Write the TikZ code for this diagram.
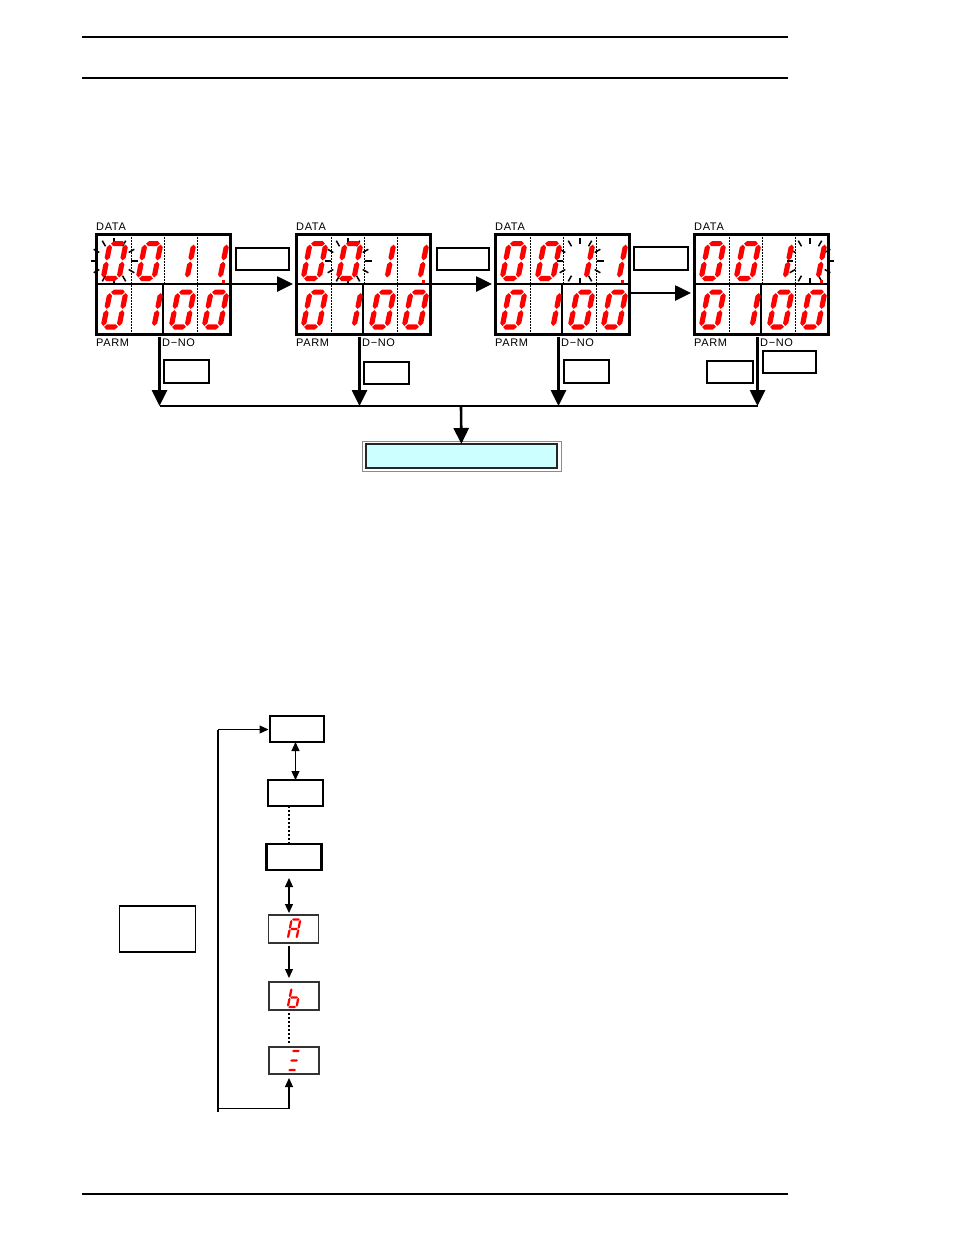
\documentclass[tikz,border=0pt]{standalone}
\usepackage{fontspec}
\setmainfont{Liberation Sans}
\usetikzlibrary{arrows.meta}

\definecolor{cyanlt}{RGB}{204,255,255}
\definecolor{segred}{RGB}{255,0,0}

% one segment, horizontal (y, x1, x2) or vertical (x, y1, y2)
\def\segt{2.6}
\newcommand{\dsegh}[3]{\fill[segred] (#2,#1) -- (#2+\segt,#1-\segt) -- (#3-\segt,#1-\segt) -- (#3,#1) -- (#3-\segt,#1+\segt) -- (#2+\segt,#1+\segt) -- cycle;}
\newcommand{\dsegv}[3]{\fill[segred] (#1,#2) -- (#1+\segt,#2+\segt) -- (#1+\segt,#3-\segt) -- (#1,#3) -- (#1-\segt,#3-\segt) -- (#1-\segt,#2+\segt) -- cycle;}
\newcommand{\dsega}{\dsegh{2.6}{3.6}{17.4}}
\newcommand{\dsegb}{\dsegv{18.4}{3.6}{19.4}}
\newcommand{\dsegc}{\dsegv{18.4}{20.6}{36.4}}
\newcommand{\dsegd}{\dsegh{37.4}{3.6}{17.4}}
\newcommand{\dsege}{\dsegv{2.6}{20.6}{36.4}}
\newcommand{\dsegf}{\dsegv{2.6}{3.6}{19.4}}
\newcommand{\dsegg}{\dsegh{20}{3.6}{17.4}}
% seven segment digit: x, y (top left), scale, segments
\newcommand{\segdigit}[4]{%
  \begin{scope}[shift={(#1,#2)},scale=#3,xslant=0.2]
    \foreach \s in {#4} {\csname dseg\s\endcsname}
  \end{scope}}

\begin{document}
\begin{tikzpicture}[x=1pt,y=-1pt,>={Triangle[length=16pt,width=15pt]},
 pagerule/.style={line width=1.3},
 panel/.style={draw,line width=3,minimum width=134,minimum height=100,inner sep=0,outer sep=0},
 cellsep/.style={line width=1,dash pattern=on 1.5pt off 1.5pt},
 midline/.style={line width=2},
 keybox/.style={draw,line width=1.3,inner sep=0,outer sep=0},
 lbl/.style={font=\fontsize{11}{13}\selectfont\addfontfeature{LetterSpace=6},inner sep=0,anchor=base west},
 bigarr/.style={->,line width=2.6},
 blink/.style={line width=1.5},
 mbox/.style={draw,line width=2.4,minimum width=54,minimum height=26,inner sep=0,outer sep=0},
 dbox/.style={draw=black!80,line width=1.3,minimum width=50,minimum height=28,inner sep=0,outer sep=0},
 arr/.style={-{Triangle[length=9pt,width=8pt]},line width=1.2},
 darr/.style={{Triangle[length=9pt,width=8pt]}-{Triangle[length=9pt,width=8pt]},line width=1.2},
 dotline/.style={line width=1.8,dash pattern=on 2pt off 2pt}]
\useasboundingbox (0,0) rectangle (954,1235);
\draw[pagerule] (82,37) -- (788,37);
\draw[pagerule] (82,78) -- (788,78);
\draw[pagerule] (82,1194) -- (788,1194);

% the four displays
\foreach \x/\i/\b in {96/1/18,296/2/52,495/3/85,694/4/116} {
  \node[panel] (p\i) at (\x+67,284) {};
  \draw[midline] (p\i.west) -- (p\i.east);
  \draw[cellsep] (\x+35,234) -- (\x+35,334);
  \draw[cellsep] (\x+68,234) -- (\x+68,284);
  \draw[cellsep] (\x+101,234) -- (\x+101,334);
  \draw[midline] (\x+67,284) -- (\x+67,334);
  \foreach \a in {0,30,...,330} \draw[blink] (\x+\b,261) ++(\a:17) -- ++(\a:6.5);
  \segdigit{\x+12}{241}{1}{a,b,c,d,e,f}
  \segdigit{\x+47}{241}{1}{a,b,c,d,e,f}
  \segdigit{\x+80}{241}{1}{b,c}
  \segdigit{\x+113}{241}{1}{b,c}
  \fill[segred] (\x+126,279.5) rectangle ++(3,3);
  \segdigit{\x+12}{289.5}{1}{a,b,c,d,e,f}
  \segdigit{\x+47}{289.5}{1}{b,c}
  \segdigit{\x+80}{289.5}{1}{a,b,c,d,e,f}
  \segdigit{\x+113}{289.5}{1}{a,b,c,d,e,f}
  \node[lbl] (data\i) at (\x,230.5) {DATA};
  \node[lbl] (parm\i) at (\x,346.5) {PARM};
  \node[lbl] (dno\i) at (\x+66,346.5) {D−NO};
  \coordinate (d\i) at (\x+63.5,337);
  \coordinate (b\i) at (\x+63.5,406);
}

% keys between the displays
\node[keybox,minimum width=53,minimum height=22] (k1) at (262.5,259) {};
\node[keybox,minimum width=52,minimum height=22] (k2) at (463,259) {};
\node[keybox,minimum width=54,minimum height=23] (k3) at (661,258.5) {};
\draw[bigarr,shorten <=2pt,shorten >=3pt] (p1) -- (p2);
\draw[bigarr,shorten <=2pt,shorten >=3pt] (p2) -- (p3);
\draw[bigarr,shorten <=2pt,shorten >=3pt] ([yshift=-9pt]p3.east) -- ([yshift=-9pt]p4.west);

% keys under the displays
\node[keybox,minimum width=45,minimum height=23] (s1) at (186.5,371.5) {};
\node[keybox,minimum width=45,minimum height=22] (s2) at (386.5,373) {};
\node[keybox,minimum width=45,minimum height=23] (s3) at (586.5,371.5) {};
\node[keybox,minimum width=46,minimum height=22] (s4) at (730,372) {};
\node[keybox,minimum width=53,minimum height=22] (s5) at (789.5,362) {};

\draw[line width=2.6] (b1) -- (b4);
\foreach \i in {1,...,4} \draw[bigarr] (d\i) -- (b\i);
\coordinate (bm) at (461,406);
\node[draw=black!85,line width=1.3,fill=cyanlt,minimum width=191,minimum height=24,inner sep=0,outer sep=0] (res) at (461.5,456) {};
\draw[black!45,line width=1] ([xshift=-4pt,yshift=3pt]res.north west) rectangle ([xshift=4pt,yshift=-3pt]res.south east);
\draw[bigarr] (bm) -- (res);

% selection loop
\node[mbox] (t1) at (297,729) {};
\node[mbox,minimum width=55] (t2) at (295.5,793) {};
\node[mbox,minimum width=55] (t3) at (294,857) {};
\node[dbox] (ka) at (293.5,929) {};
\node[dbox] (kb) at (294,996) {};
\node[dbox,minimum height=27] (ke) at (294,1060.5) {};
\node[keybox,line width=1.5,minimum width=76,minimum height=46] (side) at (157.5,929) {};
\begingroup
\def\segt{2.1}
\segdigit{290.5}{918}{0.55}{a,b,c,e,f,g}
\segdigit{290.5}{986.5}{0.55}{c,d,e,f,g}
\segdigit{290.5}{1049.5}{0.55}{a,g,d}
\endgroup
\coordinate (vx) at (289,0);
\draw[darr] (t2.north |- t1.south) -- (t2.north);
\draw[dotline] (vx |- t2.south) -- (vx |- t3.north);
\draw[darr,shorten <=8pt,shorten >=2pt] (vx |- t3.south) -- (vx |- ka.north);
\draw[arr,shorten <=3pt,shorten >=4pt] (vx |- ka.south) -- (vx |- kb.north);
\draw[dotline,shorten <=3pt,shorten >=4pt] (vx |- kb.south) -- (vx |- ke.north);
\coordinate (lt) at (218,729.5);
\coordinate (lb) at (218,1108.5);
\coordinate (le) at (218,1112);
\draw[line width=2] (lt) -- (le);
\draw[arr,shorten >=1.5pt] (lt) -- (t1.west |- lt);
\draw[arr,shorten >=4pt] (lb) -| (vx |- ke.south);
\end{tikzpicture}
\end{document}
